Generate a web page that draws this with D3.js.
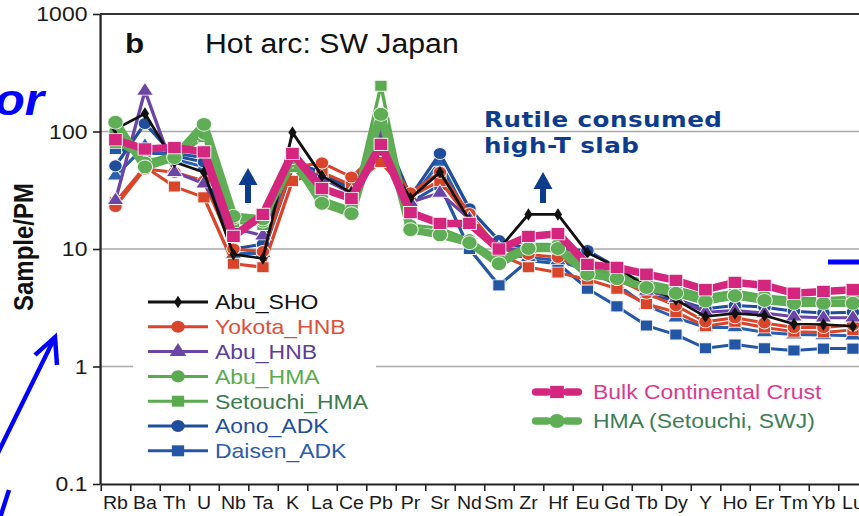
<!DOCTYPE html>
<html>
<head>
<meta charset="utf-8">
<script src="https://d3js.org/d3.v7.min.js"></script>
<style>
  html, body { margin: 0; padding: 0; background: #fff; }
  svg { display: block; font-family: "Liberation Sans", Arial, sans-serif; }
</style>
</head>
<body>
<svg id="chart"></svg>
<script>
  // elements on the x axis (spider diagram order)
  const elements = ["Rb","Ba","Th","U","Nb","Ta","K","La","Ce","Pb","Pr","Sr","Nd","Sm","Zr","Hf","Eu","Gd","Tb","Dy","Y","Ho","Er","Tm","Yb","Lu"];

  // sample / primitive mantle values
  const abuSHO      = [105, 142, 55, 45, 9.0, 8.3, 98, 42, 30, 70, 27, 45, 17.5, 10, 19.7, 19.7, 9.3, 7.0, 4.8, 3.7, 2.66, 2.83, 2.72, 2.3, 2.28, 2.2];
  const yokotaHNB   = [23, 48, 45, 38, 10, 9.5, 50, 54, 41, 70, 30, 45, 20, 10, 9, 8.5, 6.5, 5.5, 4.2, 3.3, 2.4, 2.6, 2.35, 2.15, 2.15, 2.25];
  const yokotaHNB2  = [25, 50, 34, 27.5, 7.5, 7.0, 38, 45, 35, 55, 28, 38, 18, 9, 7, 6.3, 5.5, 4.6, 3.4, 2.9, 2.2, 2.4, 2.15, 1.98, 1.95, 2.05];
  const abuHNB      = [26, 222, 45, 36, 15, 13, 55, 40, 30, 90, 25, 30, 18, 10, 10, 10, 7, 6, 4.4, 3.8, 2.9, 3.0, 2.85, 2.65, 2.6, 2.6];
  const abuHMA      = [100, 55, 65, 95, 18, 17, 55, 27, 22, 120, 16, 15, 12, 8.2, 11, 11, 6.8, 6.2, 5.3, 4.7, 4.0, 4.4, 4.0, 3.8, 3.8, 3.9];
  const setouchiHMA = [80, 58, 58, 90, 17, 16, 50, 26, 21, 245, 15, 13.5, 11.5, 7.8, 10.5, 10.5, 6.4, 5.9, 5.0, 4.5, 3.8, 4.2, 3.8, 3.6, 3.6, 3.6];
  const aonoADK     = [51, 117, 62, 55, 10, 11, 55, 45, 32, 110, 28, 65, 22, 11.8, 10, 10, 9.7, 7.0, 4.0, 3.7, 3.1, 3.3, 3.2, 2.95, 2.85, 2.9];
  const aonoADK2    = [42, 75, 58, 50, 9, 9.2, 49, 43, 33, 100, 26, 55, 18, 9, 8.5, 8, 6.5, 5.0, 3.3, 2.6, 2.15, 2.15, 1.95, 1.87, 1.85, 1.83];
  const daisenADK   = [71, 65, 65, 60, 9, 9.5, 50, 40, 30, 105, 25, 35, 10, 4.9, 8, 7.5, 4.6, 3.25, 2.23, 1.87, 1.43, 1.54, 1.43, 1.37, 1.42, 1.42];
  const bulkCrust   = [85, 71, 73, 67, 12.8, 19.7, 65, 32.7, 26.9, 77.6, 20.4, 16.5, 16.5, 10, 12.8, 13.5, 7.4, 6.96, 6.1, 5.4, 4.5, 5.2, 4.9, 4.2, 4.35, 4.5];
  const hmaSWJ      = [120, 50, 60, 115, 19, 18, 60, 24.5, 20, 140, 14.6, 13.2, 11.3, 7.5, 10.1, 10.1, 6.1, 5.6, 4.7, 4.2, 3.6, 4.0, 3.65, 3.45, 3.45, 3.45];

  const yTicks = [0.1, 1, 10, 100, 1000];

  // the figure is stretched a little horizontally
  const SX = 1.12;
  const X = v => v / SX;

  const W = 859, H = 516;
  const svg = d3.select("#chart").attr("width", W).attr("height", H);
  const root = svg.append("g").attr("transform", `scale(${SX},1)`);

  const x = d3.scaleBand().domain(elements).range([X(100.7), X(867.7)]).padding(0);
  const cx = d => x(d) + x.bandwidth() / 2;
  const y = d3.scaleLog().domain([0.1, 1000]).range([484, 14]);

  // grid lines
  root.append("g").selectAll("line")
    .data([1, 10, 100])
    .enter().append("line")
    .attr("x1", X(100)).attr("x2", X(900))
    .attr("y1", d => y(d)).attr("y2", d => y(d))
    .attr("stroke", "#a9a9a9").attr("stroke-width", 1.6);

  // left legend box hides the grid behind it
  root.append("rect").attr("x", X(133)).attr("y", 286).attr("width", X(376) - X(133)).attr("height", 178).attr("fill", "#fff");

  const sym = {
    circle: d3.symbol().type(d3.symbolCircle).size(115),
    square: d3.symbol().type(d3.symbolSquare).size(120),
    triangle: d3.symbol().type(d3.symbolTriangle).size(95),
    diamond: d3.symbol().type(d3.symbolDiamond).size(45),
    bigSquare: d3.symbol().type(d3.symbolSquare).size(150),
    bigCircle: d3.symbol().type(d3.symbolCircle).size(150)
  };

  const series = [
    { name: "Daisen_ADK", values: daisenADK, color: "#2456a6", shape: "square", width: 3 },
    { name: "", values: aonoADK2, color: "#2a5fb0", shape: "triangle", width: 3 },
    { name: "Aono_ADK", values: aonoADK, color: "#1f4e9c", shape: "circle", width: 3 },
    { name: "", values: yokotaHNB2, color: "#d9452b", shape: "square", width: 3 },
    { name: "Yokota_HNB", values: yokotaHNB, color: "#d9452b", shape: "circle", width: 3 },
    { name: "Abu_HNB", values: abuHNB, color: "#6a45a5", shape: "triangle", width: 3 },
    { name: "Setouchi_HMA", values: setouchiHMA, color: "#5aab4f", shape: "square", width: 3 },
    { name: "Abu_HMA", values: abuHMA, color: "#5aab4f", shape: "circle", width: 3 },
    { name: "Abu_SHO", values: abuSHO, color: "#111111", shape: "diamond", width: 2.6 },
    { name: "HMA (Setouchi, SWJ)", values: hmaSWJ, color: "#5fae55", shape: "bigCircle", width: 7.5 },
    { name: "Bulk Continental Crust", values: bulkCrust, color: "#d4267f", shape: "bigSquare", width: 7.5 }
  ];

  const line = d3.line().x(d => cx(d.el)).y(d => y(d.v));

  series.forEach(s => {
    const pts = elements.map((el, i) => ({ el: el, v: s.values[i] }));
    const g = root.append("g");
    g.append("path")
      .attr("d", line(pts))
      .attr("fill", "none")
      .attr("stroke", s.color)
      .attr("stroke-width", s.width)
      .attr("stroke-linejoin", "round");
    g.selectAll("path.m")
      .data(pts)
      .enter().append("path")
      .attr("class", "m")
      .attr("d", sym[s.shape])
      .attr("transform", d => `translate(${cx(d.el)},${y(d.v)})`)
      .attr("fill", s.color)
      .attr("stroke", s.shape === "diamond" ? "none" : "#f2f2f2")
      .attr("stroke-width", 0.9);
  });

  // y axis
  const yAxis = root.append("g")
    .attr("transform", `translate(${X(100)},0)`)
    .call(d3.axisLeft(y).tickValues(yTicks).tickFormat(d3.format("~g")).tickSize(X(7)).tickSizeOuter(0).tickPadding(5));
  yAxis.select(".domain").attr("stroke", "#222").attr("stroke-width", 2);
  yAxis.selectAll(".tick line").attr("stroke", "#222").attr("stroke-width", 1.6);
  yAxis.selectAll(".tick text").attr("font-size", 20.5).attr("fill", "#1a1a1a")
    .attr("font-family", "Liberation Sans, Arial, sans-serif");

  // top frame line
  root.append("line").attr("x1", X(100)).attr("x2", X(900)).attr("y1", 14).attr("y2", 14)
    .attr("stroke", "#333").attr("stroke-width", 2);

  // x axis: ticks between elements, labels at the centres
  const xi = d3.scaleLinear().domain([0, elements.length]).range([X(100.7), X(867.7)]);
  const xAxis = root.append("g").attr("transform", "translate(0,484)")
    .call(d3.axisBottom(xi).tickValues(d3.range(elements.length + 1)).tickFormat("").tickSize(7).tickSizeOuter(0));
  xAxis.select(".domain").attr("stroke", "#222").attr("stroke-width", 2);
  xAxis.selectAll(".tick line").attr("stroke", "#222").attr("stroke-width", 1.4);

  const xLab = root.append("g").attr("transform", "translate(0,484)")
    .call(d3.axisBottom(x).tickSize(0).tickPadding(13));
  xLab.select(".domain").remove();
  xLab.selectAll(".tick text").attr("font-size", 17.5).attr("fill", "#1a1a1a")
    .attr("font-family", "Liberation Sans, Arial, sans-serif");

  // axis title
  root.append("text")
    .attr("transform", `translate(${X(33)},247) rotate(-90)`)
    .attr("text-anchor", "middle")
    .attr("font-size", 24).attr("font-weight", "bold").attr("fill", "#111")
    .text("Sample/PM");

  // panel title
  root.append("text").attr("x", X(125)).attr("y", 53).attr("font-size", 28).attr("font-weight", "bold").attr("fill", "#111").text("b");
  root.append("text").attr("x", X(205)).attr("y", 53).attr("font-size", 27).attr("fill", "#111").text("Hot arc: SW Japan");

  // rutile annotation
  const navy = "#0e3c8c";
  const rut = root.append("text").attr("font-family", "DejaVu Sans, Verdana, sans-serif")
    .attr("font-size", 22).attr("font-weight", "bold").attr("fill", navy).attr("letter-spacing", 0.4);
  rut.append("tspan").attr("x", X(484)).attr("y", 127).text("Rutile consumed");
  rut.append("tspan").attr("x", X(484)).attr("y", 153).text("high-T slab");

  function upArrow(px, tip, bottom) {
    const c = X(px), hw = X(9.5), sw = X(3);
    const base = tip + 17;
    root.append("path")
      .attr("d", `M${c},${tip} L${c + hw},${base} L${c + sw},${base} L${c + sw},${bottom} L${c - sw},${bottom} L${c - sw},${base} L${c - hw},${base} Z`)
      .attr("fill", navy);
  }
  upArrow(248, 168, 203);
  upArrow(543, 172, 203);

  // legends
  const legendLeft = [
    { name: "Abu_SHO", color: "#111111", text: "#111111", shape: "diamond" },
    { name: "Yokota_HNB", color: "#d9452b", text: "#e0503a", shape: "circle" },
    { name: "Abu_HNB", color: "#6a45a5", text: "#5e3c99", shape: "triangle" },
    { name: "Abu_HMA", color: "#5aab4f", text: "#5aab4c", shape: "circle" },
    { name: "Setouchi_HMA", color: "#5aab4f", text: "#3b7b4c", shape: "square" },
    { name: "Aono_ADK", color: "#1f4e9c", text: "#1f4e9c", shape: "circle" },
    { name: "Daisen_ADK", color: "#2456a6", text: "#2a5caa", shape: "square" }
  ];
  legendLeft.forEach((d, i) => {
    const ly = 302 + i * 24.8;
    const g = root.append("g");
    g.append("line").attr("x1", X(148)).attr("x2", X(208)).attr("y1", ly).attr("y2", ly)
      .attr("stroke", d.color).attr("stroke-width", 3);
    g.append("path").attr("d", sym[d.shape]).attr("transform", `translate(${X(178)},${ly})`)
      .attr("fill", d.color);
    g.append("text").attr("x", X(215)).attr("y", ly + 7.5).attr("font-size", 20.5).attr("fill", d.text).text(d.name);
  });

  const legendRight = [
    { name: "Bulk Continental Crust", color: "#d4267f", text: "#d93a90", shape: "bigSquare", ly: 392 },
    { name: "HMA (Setouchi, SWJ)", color: "#5fae55", text: "#3d7e55", shape: "bigCircle", ly: 421 }
  ];
  legendRight.forEach(d => {
    const g = root.append("g");
    [[536, 547], [567, 578]].forEach(seg => {
      g.append("line").attr("x1", X(seg[0])).attr("x2", X(seg[1])).attr("y1", d.ly).attr("y2", d.ly)
        .attr("stroke", d.color).attr("stroke-width", 7.5).attr("stroke-linecap", "round");
    });
    g.append("path").attr("d", sym[d.shape]).attr("transform", `translate(${X(557)},${d.ly})`).attr("fill", d.color);
    g.append("text").attr("x", X(593)).attr("y", d.ly + 7.5).attr("font-size", 20.5).attr("fill", d.text).text(d.name);
  });

  // blue overlay marks from the surrounding slide
  const blue = "#0000ff";
  root.append("text").attr("x", X(44)).attr("y", 115).attr("text-anchor", "end")
    .attr("font-size", 44).attr("font-weight", "bold").attr("font-style", "italic").attr("fill", blue).text("or");
  root.append("line").attr("x1", X(-5)).attr("y1", 459).attr("x2", X(55)).attr("y2", 337)
    .attr("stroke", blue).attr("stroke-width", 4);
  root.append("path").attr("d", `M${X(35)},355 L${X(55)},337 L${X(57)},365`)
    .attr("fill", "none").attr("stroke", blue).attr("stroke-width", 4).attr("stroke-linejoin", "miter");
  root.append("line").attr("x1", X(0)).attr("y1", 518).attr("x2", X(9)).attr("y2", 490)
    .attr("stroke", blue).attr("stroke-width", 4);
  root.append("line").attr("x1", X(828)).attr("y1", 262).attr("x2", X(870)).attr("y2", 262)
    .attr("stroke", blue).attr("stroke-width", 5);
</script>
</body>
</html>
